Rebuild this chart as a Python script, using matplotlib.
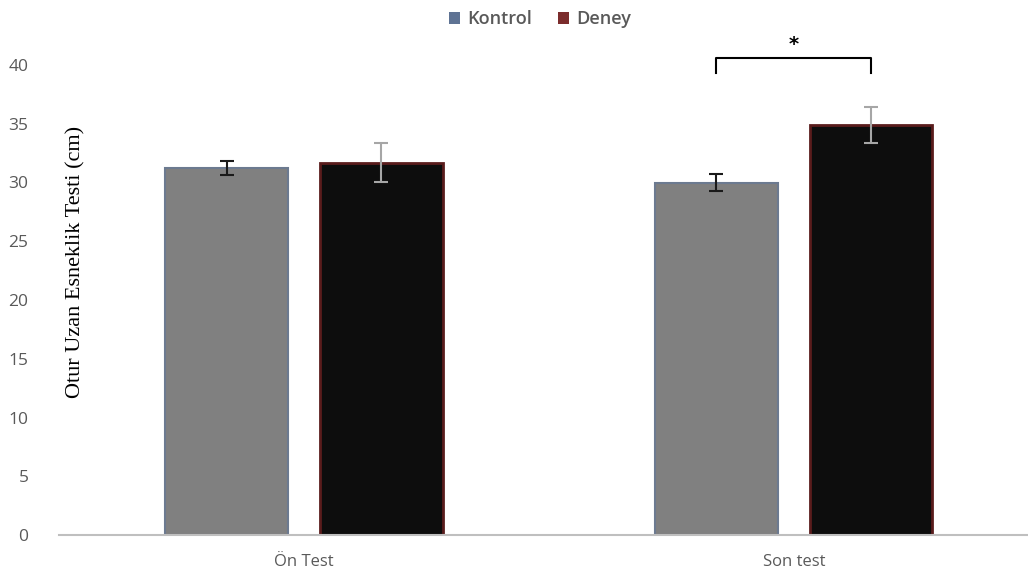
import matplotlib
matplotlib.use("Agg")
import matplotlib.pyplot as plt
import numpy as np
from matplotlib.patches import Patch

categories = ["Ön Test", "Son test"]
series = ["Kontrol", "Deney"]
kontrol = [31.2, 30.0]
kontrol_err = [0.6, 0.7]
deney = [31.7, 34.9]
deney_err = [1.65, 1.55]
yticks = [0, 5, 10, 15, 20, 25, 30, 35, 40]
ylabel = "Otur Uzan Esneklik Testi (cm)"

fig = plt.figure(figsize=(10.28, 5.79), dpi=100)
W, H = 1028, 579
ax = fig.add_axes([59 / W, (H - 535) / H, 969 / W, 470 / H])

x = np.arange(len(categories))
w = 0.25
off = 0.158
ax.bar(x - off, kontrol, width=w, color="#808080", edgecolor="#6c7a90", linewidth=1.5, zorder=2)
ax.bar(x + off, deney, width=w, color="#0d0d0d", edgecolor="#5a1c1c", linewidth=2, zorder=2)
ax.errorbar(x - off, kontrol, yerr=kontrol_err, fmt="none", ecolor="#1a1a1a", elinewidth=1.5, capsize=5, capthick=1.5, zorder=3)
ax.errorbar(x + off, deney, yerr=deney_err, fmt="none", ecolor="#a6a6a6", elinewidth=1.5, capsize=5, capthick=1.5, zorder=3)

ax.set_xlim(-0.5, 1.478)
ax.set_ylim(0, 40)
ax.set_yticks(yticks)
ax.set_xticks(x)
ax.set_xticklabels(categories, fontsize=12, color="#595959", family="Open Sans")
for lab in ax.get_yticklabels():
    lab.set_fontsize(12.5)
    lab.set_color("#595959")
    lab.set_family("Open Sans")
ax.tick_params(axis="both", length=0)
ax.tick_params(axis="y", pad=22)
ax.tick_params(axis="x", pad=14)
for s in ["top", "right", "left"]:
    ax.spines[s].set_visible(False)
ax.spines["bottom"].set_color("#bfbfbf")
ax.spines["bottom"].set_linewidth(1.5)

ax.set_ylabel(ylabel, fontsize=16, family="Liberation Serif", color="#000000")
ax.yaxis.set_label_coords(0.027, 0.58)

# significance bracket
x1, x2 = x[1] - off, x[1] + off
ax.plot([x1, x1, x2, x2], [39.3, 40.6, 40.6, 39.3], color="#000000", lw=1.5, clip_on=False)
ax.text((x1 + x2) / 2, 40.9, "*", ha="center", va="bottom", fontsize=14, fontweight="bold", clip_on=False)

handles = [Patch(facecolor="#5f7394", edgecolor="none"), Patch(facecolor="#7b2c2c", edgecolor="none")]
leg = fig.legend(handles, series, loc="center", bbox_to_anchor=(540 / W, 1 - 19 / H), ncol=2, frameon=False,
                 handlelength=0.65, handleheight=0.65, handletextpad=0.4, columnspacing=1.4,
                 prop={"family": "Open Sans", "size": 13, "weight": "semibold"})
for t in leg.get_texts():
    t.set_color("#595959")

fig.savefig("out.png", dpi=100)
